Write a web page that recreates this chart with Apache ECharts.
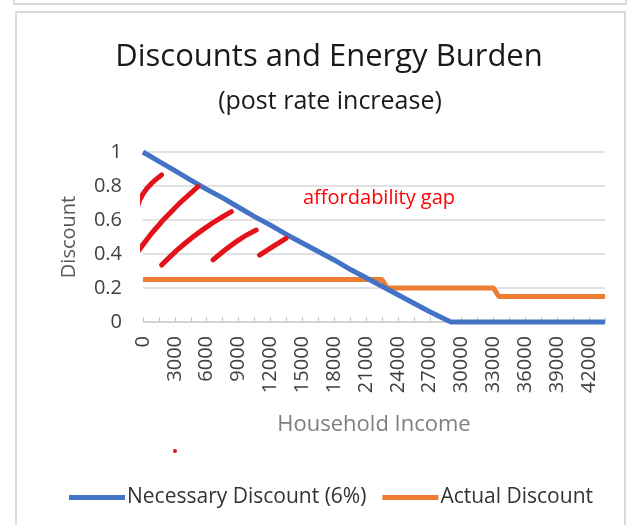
<!DOCTYPE html>
<html>
<head>
<meta charset="utf-8">
<script src="https://cdn.jsdelivr.net/npm/echarts@6/dist/echarts.min.js"></script>
<style>
  html, body { margin: 0; padding: 0; background: #fff; }
  #chart { width: 635px; height: 525px; }
</style>
</head>
<body>
<div id="chart"></div>
<script>
// household income (x) and discount (y)
const necessaryIncome = [0, 1500, 3000, 4500, 6000, 7500, 9000, 10500, 12000, 13500, 15000,
  16500, 18000, 19500, 21000, 22500, 24000, 25500, 27000, 28500, 29000, 43500];
const necessaryDiscount = [1.0, 0.945, 0.89, 0.835, 0.78, 0.73, 0.675, 0.62, 0.57, 0.515, 0.465,
  0.415, 0.365, 0.31, 0.26, 0.21, 0.16, 0.11, 0.06, 0.015, 0, 0];

const actualIncome = [0, 22500, 23000, 33000, 33500, 43500];
const actualDiscount = [0.25, 0.25, 0.2, 0.2, 0.15, 0.15];

// hand drawn red hatching (income, discount)
const hatch = [
  [[-590, 0.649], [30, 0.757], [1750, 0.865]],
  [[-590, 0.404], [1900, 0.6], [5180, 0.796]],
  [[1750, 0.335], [4720, 0.502], [8320, 0.649]],
  [[6590, 0.365], [8780, 0.473], [10660, 0.541]],
  [[10970, 0.394], [12220, 0.443], [13470, 0.492]],
];

const FONT = 'Open Sans';

const pairs = (xs, ys) => xs.map((x, i) => [x, ys[i]]);

const chart = echarts.init(document.getElementById('chart'));

const hatchSeries = hatch.map(pts => ({
  type: 'line',
  data: pts,
  smooth: true,
  symbol: 'none',
  clip: false,
  silent: true,
  lineStyle: { color: '#e3121b', width: 5, cap: 'round' },
  z: 5,
}));

const option = {
  animation: false,
  textStyle: { fontFamily: FONT },
  title: [
    {
      text: 'Discounts and Energy Burden',
      left: 324,
      textAlign: 'center',
      top: 37,
      textStyle: { fontFamily: FONT, fontSize: 31, fontWeight: 'normal', color: '#1a1a1a' },
    },
    {
      text: '(post rate increase)',
      left: 325,
      textAlign: 'center',
      top: 84,
      textStyle: { fontFamily: FONT, fontSize: 25, fontWeight: 'normal', color: '#1a1a1a' },
    },
  ],
  grid: {
    left: 143,
    right: 30,
    top: 152,
    bottom: 203,
    containLabel: false,
    outerBoundsMode: 'none',
  },
  legend: {
    data: ['Necessary Discount (6%)', 'Actual Discount'],
    left: 64,
    top: 482,
    icon: 'rect',
    itemWidth: 56,
    itemHeight: 5,
    itemGap: 16,
    textStyle: { fontFamily: FONT, fontSize: 21, color: '#333', padding: [0, 0, 0, -3] },
  },
  xAxis: {
    type: 'value',
    min: 0,
    max: 43500,
    interval: 3000,
    name: 'Household Income',
    nameLocation: 'middle',
    nameGap: 92,
    nameTextStyle: { fontFamily: FONT, fontSize: 22, color: '#7f7f7f' },
    axisLine: { show: true, lineStyle: { color: '#d0d0d0', width: 1.5 } },
    axisTick: { show: true, inside: true, length: 5, lineStyle: { color: '#c8c8c8' } },
    minorTick: { show: true, splitNumber: 2, length: 5, lineStyle: { color: '#c8c8c8' } },
    splitLine: { show: false },
    axisLabel: {
      rotate: 90,
      margin: 14,
      showMaxLabel: false,
      fontFamily: FONT,
      fontSize: 20,
      color: '#404040',
      formatter: v => (v % 3000 === 0 ? String(v) : ''),
    },
  },
  yAxis: {
    type: 'value',
    min: 0,
    max: 1,
    interval: 0.2,
    name: 'Discount',
    nameLocation: 'middle',
    nameGap: 64,
    nameTextStyle: { fontFamily: FONT, fontSize: 20, color: '#595959' },
    axisLine: { show: false },
    axisTick: { show: false },
    splitLine: { lineStyle: { color: '#d9d9d9', width: 1.5 } },
    axisLabel: { margin: 21, fontFamily: FONT, fontSize: 20, color: '#404040' },
  },
  graphic: [
    {
      type: 'rect',
      shape: { x: 16, y: 12, width: 609, height: 530 },
      style: { fill: 'none', stroke: '#d9d9d9', lineWidth: 2 },
      silent: true,
    },
    {
      type: 'rect',
      shape: { x: 14, y: -30, width: 612, height: 34 },
      style: { fill: 'none', stroke: '#d9d9d9', lineWidth: 2 },
      silent: true,
    },
    {
      type: 'text',
      left: 303,
      top: 188,
      style: { text: 'affordability gap', fill: '#ff0000', font: '20px "Open Sans"' },
      z: 10,
    },
    {
      type: 'circle',
      shape: { cx: 175, cy: 451, r: 2 },
      style: { fill: '#e3121b' },
      silent: true,
    },
  ],
  series: [
    {
      name: 'Necessary Discount (6%)',
      type: 'line',
      data: pairs(necessaryIncome, necessaryDiscount),
      symbol: 'none',
      clip: false,
      lineStyle: { color: '#4472c4', width: 5 },
      itemStyle: { color: '#4472c4' },
      z: 4,
    },
    {
      name: 'Actual Discount',
      type: 'line',
      data: pairs(actualIncome, actualDiscount),
      symbol: 'none',
      clip: false,
      lineStyle: { color: '#ed7d31', width: 5 },
      itemStyle: { color: '#ed7d31' },
      z: 3,
    },
    ...hatchSeries,
  ],
};

chart.setOption(option);
</script>
</body>
</html>
